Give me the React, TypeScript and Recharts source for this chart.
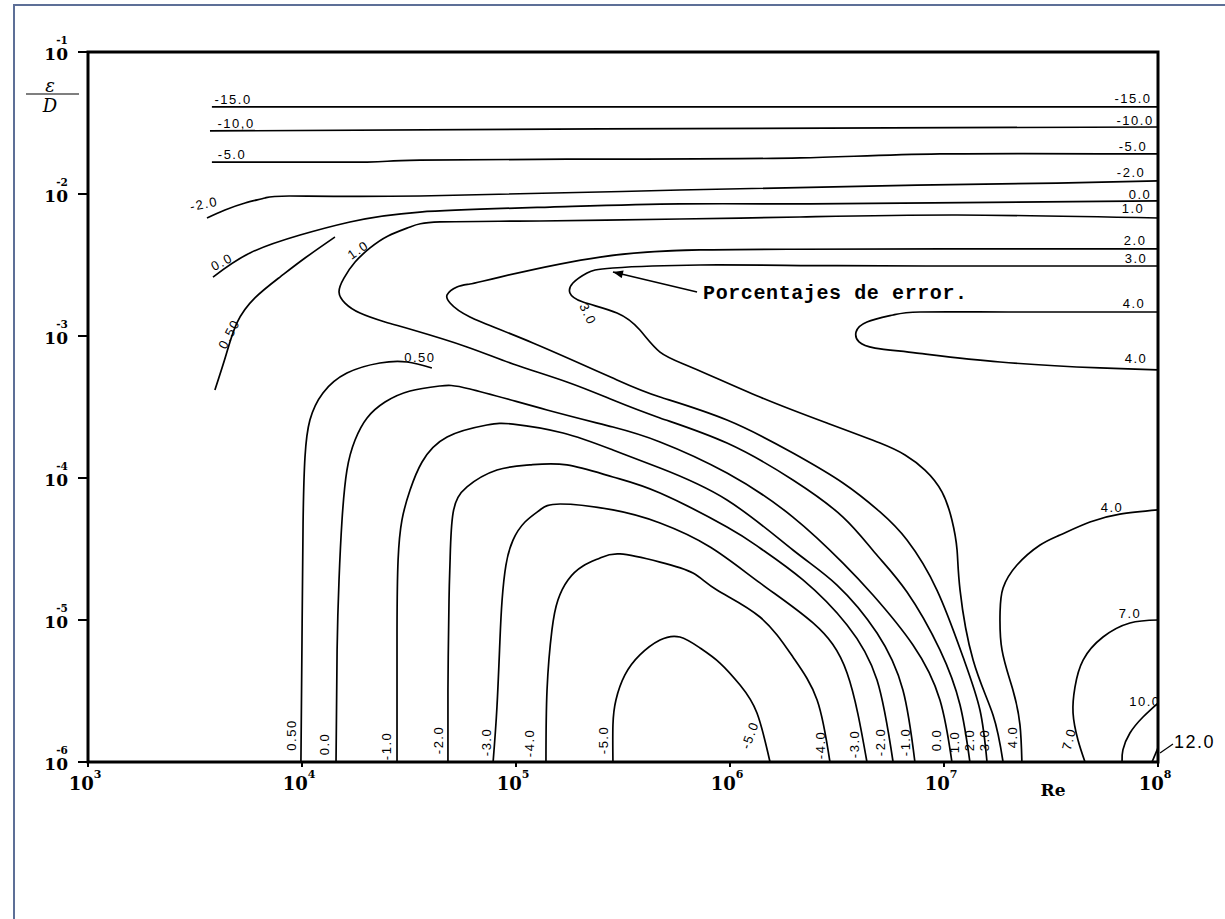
import React from 'react';
import { ComposedChart, Line, Scatter, XAxis, YAxis, ReferenceArea, Label } from 'recharts';

type Pt = [number, number];

// decades on each axis (log10 values)
const RE_DECADES = [3, 4, 5, 6, 7, 8];
const RUGOSITY_DECADES = [-6, -5, -4, -3, -2, -1];

// iso-error lines (%), points given as [log10 Re, log10 e/D]
const ISO_M15: Pt[] = [[3.579, -1.387], [5.5, -1.387], [8, -1.387]];
const ISO_M10: Pt[] = [[3.570, -1.556], [5.393, -1.542], [8, -1.528]];
const ISO_M5: Pt[] = [[3.579, -1.775], [4.304, -1.775], [4.551, -1.761], [5.5, -1.754], [6.327, -1.746], [6.981, -1.718], [8, -1.718]];
const ISO_M2_TOP: Pt[] = [[3.556, -2.169], [3.640, -2.113], [3.734, -2.063], [3.827, -2.028], [3.944, -2.014], [4.551, -2.014], [5.766, -1.972], [6.874, -1.937], [7.528, -1.923], [8, -1.908]];
const ISO_0_TOP: Pt[] = [[3.584, -2.585], [3.757, -2.415], [3.991, -2.289], [4.224, -2.197], [4.551, -2.127], [5.159, -2.092], [5.766, -2.070], [6.327, -2.070], [6.949, -2.063], [8, -2.049]];
const ISO_1: Pt[] = [
  [8, -2.169], [7.061, -2.148], [6.327, -2.162], [5.766, -2.176], [5.112, -2.190], [4.645, -2.197],
  [4.505, -2.232], [4.402, -2.296], [4.318, -2.380], [4.248, -2.479], [4.196, -2.592], [4.173, -2.690],
  [4.201, -2.768], [4.271, -2.838], [4.388, -2.901], [4.519, -2.958], [4.771, -3.077], [4.986, -3.197],
  [5.238, -3.324], [5.453, -3.451], [5.673, -3.577], [5.986, -3.754], [6.294, -4.014], [6.528, -4.275],
  [6.678, -4.528], [6.827, -4.803], [6.981, -5.211], [7.075, -5.599], [7.121, -6],
];
const ISO_2: Pt[] = [
  [8, -2.387], [7.0, -2.387], [6.3, -2.389], [5.860, -2.394], [5.393, -2.444], [4.925, -2.585],
  [4.785, -2.634], [4.724, -2.655], [4.678, -2.711], [4.692, -2.768], [4.785, -2.866], [5.079, -3.049],
  [5.472, -3.310], [5.673, -3.430], [5.986, -3.592], [6.294, -3.824], [6.528, -4.035], [6.701, -4.239],
  [6.827, -4.437], [6.967, -4.789], [7.089, -5.261], [7.168, -5.634], [7.201, -6],
];
const ISO_3: Pt[] = [
  [8, -2.507], [7.355, -2.507], [6.5, -2.505], [5.860, -2.500], [5.453, -2.521], [5.332, -2.556],
  [5.266, -2.627], [5.252, -2.697], [5.313, -2.761], [5.472, -2.838], [5.579, -2.958], [5.673, -3.113],
  [5.827, -3.225], [6.140, -3.430], [6.453, -3.613], [6.701, -3.754], [6.818, -3.838], [6.911, -3.944],
  [6.991, -4.099], [7.037, -4.296], [7.061, -4.507], [7.075, -4.789], [7.136, -5.282], [7.229, -5.669], [7.276, -6],
];
const ISO_4_UPPER: Pt[] = [[8, -2.831], [7.3, -2.831], [6.888, -2.831], [6.762, -2.852], [6.640, -2.901], [6.589, -2.972], [6.603, -3.042], [6.678, -3.085], [6.874, -3.120], [7.262, -3.183], [7.729, -3.225], [8, -3.239]];
const ISO_4_LOWER: Pt[] = [[8, -4.225], [7.822, -4.254], [7.682, -4.310], [7.542, -4.401], [7.449, -4.472], [7.341, -4.613], [7.276, -4.775], [7.262, -4.944], [7.271, -5.211], [7.322, -5.493], [7.355, -5.739], [7.364, -6]];
const ISO_7: Pt[] = [[8, -5.0], [7.869, -5.021], [7.743, -5.120], [7.650, -5.282], [7.612, -5.472], [7.603, -5.655], [7.626, -5.845], [7.659, -6]];
const ISO_10: Pt[] = [[8, -5.585], [7.930, -5.683], [7.869, -5.796], [7.836, -5.915], [7.832, -6]];
const ISO_12: Pt[] = [[8, -5.901], [7.972, -6]];
const ISO_050_TOP: Pt[] = [[3.593, -3.380], [3.645, -3.134], [3.696, -2.908], [3.780, -2.732], [3.897, -2.585], [4.014, -2.451], [4.154, -2.303]];
const ISO_050_LOW: Pt[] = [[3.995, -6], [4.0, -5.141], [4.005, -4.317], [4.014, -3.852], [4.037, -3.592], [4.098, -3.401], [4.210, -3.261], [4.364, -3.190], [4.491, -3.183], [4.607, -3.225]];
const ISO_0_LOW: Pt[] = [
  [4.159, -6], [4.164, -5.211], [4.173, -4.718], [4.187, -4.296], [4.210, -3.944], [4.248, -3.732],
  [4.304, -3.577], [4.388, -3.465], [4.505, -3.387], [4.645, -3.352], [4.785, -3.373], [5.145, -3.521],
  [5.453, -3.641], [5.673, -3.746], [5.986, -3.965], [6.294, -4.275], [6.528, -4.599], [6.668, -4.824],
  [6.855, -5.176], [6.981, -5.563], [7.037, -6],
];
const ISO_M1: Pt[] = [
  [4.444, -6], [4.444, -5.070], [4.449, -4.577], [4.467, -4.296], [4.505, -4.085], [4.561, -3.887],
  [4.678, -3.711], [4.864, -3.627], [4.986, -3.620], [5.220, -3.683], [5.453, -3.803], [5.673, -3.930],
  [5.986, -4.155], [6.294, -4.507], [6.500, -4.754], [6.687, -5.092], [6.808, -5.493], [6.864, -6],
];
const ISO_M2: Pt[] = [
  [4.682, -6], [4.682, -5.493], [4.687, -4.859], [4.692, -4.577], [4.706, -4.246], [4.771, -4.063],
  [4.911, -3.944], [5.065, -3.908], [5.238, -3.908], [5.453, -3.993], [5.673, -4.106], [5.986, -4.345],
  [6.140, -4.493], [6.341, -4.718], [6.547, -5.035], [6.687, -5.423], [6.762, -6],
];
const ISO_M3: Pt[] = [
  [4.893, -6], [4.911, -5.613], [4.925, -5.141], [4.935, -4.859], [4.953, -4.613], [4.986, -4.437],
  [5.042, -4.310], [5.112, -4.225], [5.206, -4.183], [5.453, -4.225], [5.673, -4.317], [5.907, -4.486],
  [6.140, -4.739], [6.388, -5.021], [6.547, -5.373], [6.640, -6],
];
const ISO_M4: Pt[] = [
  [5.140, -6], [5.145, -5.493], [5.168, -5.070], [5.196, -4.859], [5.243, -4.718], [5.313, -4.620],
  [5.393, -4.563], [5.486, -4.535], [5.673, -4.592], [5.827, -4.669], [5.939, -4.789], [6.140, -4.979],
  [6.294, -5.261], [6.407, -5.563], [6.467, -6],
];
const ISO_M5_ARCH: Pt[] = [
  [5.453, -6], [5.453, -5.739], [5.467, -5.563], [5.509, -5.387], [5.579, -5.246], [5.673, -5.141],
  [5.766, -5.120], [5.860, -5.197], [5.953, -5.303], [6.047, -5.458], [6.126, -5.655], [6.187, -6],
];

const CONTOURS: Pt[][] = [
  ISO_M15, ISO_M10, ISO_M5, ISO_M2_TOP, ISO_0_TOP, ISO_1, ISO_2, ISO_3, ISO_4_UPPER, ISO_4_LOWER,
  ISO_7, ISO_10, ISO_12, ISO_050_TOP, ISO_050_LOW, ISO_0_LOW, ISO_M1, ISO_M2, ISO_M3, ISO_M4, ISO_M5_ARCH,
];

// contour labels: [log10 Re, log10 e/D, text, rotation]
const ISO_LABELS: [number, number, string, number][] = [
  [3.678, -1.338, '-15.0', 0], [3.692, -1.500, '-10,0', 0], [3.673, -1.725, '-5.0', 0],
  [3.542, -2.070, '-2.0', -12], [3.626, -2.479, '0.0', -28], [4.262, -2.394, '1.0', -35],
  [3.659, -2.986, '0.50', -62], [4.551, -3.148, '0.50', 0], [5.336, -2.845, '3.0', 65],
  [7.883, -1.324, '-15.0', 0], [7.893, -1.479, '-10.0', 0], [7.883, -1.662, '-5.0', 0],
  [7.874, -1.852, '-2.0', 0], [7.916, -2.000, '0.0', 0], [7.883, -2.099, '1.0', 0],
  [7.893, -2.324, '2.0', 0], [7.897, -2.451, '3.0', 0], [7.888, -2.768, '4.0', 0],
  [7.897, -3.155, '4.0', 0], [7.785, -4.211, '4.0', 0], [7.869, -4.951, '7.0', 0], [7.939, -5.577, '10.0', 0],
  [3.953, -5.810, '0.50', -90], [4.107, -5.873, '0.0', -90], [4.393, -5.887, '-1.0', -90],
  [4.636, -5.845, '-2.0', -90], [4.860, -5.859, '-3.0', -90], [5.065, -5.866, '-4.0', -90],
  [5.407, -5.845, '-5.0', -90], [6.093, -5.810, '-5.0', -70], [6.421, -5.880, '-4.0', -90],
  [6.584, -5.873, '-3.0', -90], [6.701, -5.859, '-2.0', -90], [6.818, -5.859, '-1.0', -90],
  [6.967, -5.845, '0.0', -90], [7.051, -5.859, '1.0', -90], [7.121, -5.845, '2.0', -90],
  [7.187, -5.845, '3.0', -90], [7.318, -5.824, '4.0', -90], [7.584, -5.838, '7.0', -75],
];
const CORNER_LABEL = [{ x: 8, y: -5.93, text: '12.0' }];
const NOTE = [{ x: 5.874, y: -2.739, text: 'Porcentajes de error.' }];
const NOTE_ARROW: Pt[] = [[5.846, -2.690], [5.453, -2.549]];

const toRows = (pts: Pt[]) => pts.map(([x, y]) => ({ x, y }));
const labelRows = ISO_LABELS.map(([x, y, text, rot]) => ({ x, y, text, rot }));

const SERIF = "'DejaVu Serif', 'Liberation Serif', serif";
const SMALL = "'Liberation Sans', Arial, sans-serif";

const IsoLabel = (props: any) => {
  const { cx, cy, payload } = props;
  const rot = payload.rot;
  return (
    <text
      x={cx}
      y={cy}
      textAnchor="middle"
      dominantBaseline="central"
      fontFamily={SMALL}
      fontSize={13}
      letterSpacing={1.5}
      fill="#000"
      transform={rot ? `rotate(${rot} ${cx} ${cy})` : undefined}
    >
      {payload.text}
    </text>
  );
};

const CornerLabel = (props: any) => {
  const { cx, cy, payload } = props;
  return (
    <g>
      <line x1={cx + 2} y1={cy + 1} x2={cx + 15} y2={cy - 8} stroke="#000" strokeWidth={1.2} />
      <text x={cx + 16} y={cy - 4} fontFamily={SMALL} fontSize={18} letterSpacing={1.5} fill="#000">
        {payload.text}
      </text>
    </g>
  );
};

const NoteLabel = (props: any) => {
  const { cx, cy, payload } = props;
  return (
    <text x={cx} y={cy} fontFamily="'Liberation Mono', 'Courier New', monospace" fontWeight="bold" fontSize={20} letterSpacing={0.6} fill="#000">
      {payload.text}
    </text>
  );
};

const XTick = ({ x, y, payload }: any) => (
  <text x={x - 3} y={y + 21} textAnchor="middle" fontFamily={SERIF} fontWeight="bold" fontSize={18} fill="#000">
    10<tspan dy={-12} fontSize={11}>{payload.value}</tspan>
  </text>
);

const YTick = ({ x, y, payload }: any) => (
  <g fontFamily={SERIF} fontWeight="bold" fill="#000">
    <text x={x} y={y + 8} textAnchor="end" fontSize={17}>10</text>
    <text x={x - 6} y={y - 8} textAnchor="middle" fontSize={10.5}>{payload.value}</text>
  </g>
);

const ReTitle = ({ viewBox }: any) => (
  <text x={viewBox.x + viewBox.width - 105} y={viewBox.y + 34} textAnchor="middle" fontFamily={SERIF} fontWeight="bold" fontSize={17} fill="#000">
    Re
  </text>
);

const RoughnessTitle = ({ viewBox }: any) => (
  <g fontFamily={SERIF} fontStyle="italic" fill="#000">
    <text x={viewBox.x + 50} y={viewBox.y + 40} textAnchor="middle" fontSize={18}>ε</text>
    <line x1={viewBox.x + 26} y1={viewBox.y + 42} x2={viewBox.x + 79} y2={viewBox.y + 42} stroke="#000" strokeWidth={1.2} />
    <text x={viewBox.x + 50} y={viewBox.y + 60} textAnchor="middle" fontSize={18}>D</text>
  </g>
);

export default function App() {
  return (
    <div style={{ position: 'absolute', left: 0, top: 0, width: 1225, height: 919, background: '#fff', overflow: 'hidden' }}>
      <svg width={0} height={0} style={{ position: 'absolute' }}>
        <defs>
          <marker id="noteArrow" viewBox="0 0 10 8" refX="10" refY="4" markerWidth="12" markerHeight="8" orient="auto" markerUnits="userSpaceOnUse">
            <path d="M0,0 L10,4 L0,8 Z" fill="#000" />
          </marker>
        </defs>
      </svg>
      <div style={{ position: 'absolute', left: 13, top: 4, width: 1220, height: 920, borderLeft: '2px solid #5d6f97', borderTop: '2px solid #5d6f97', zIndex: 2, pointerEvents: 'none' }} />
      <ComposedChart width={1225} height={919} margin={{ top: 52, right: 67, bottom: 0, left: 0 }}>
        <XAxis
          type="number"
          dataKey="x"
          domain={[3, 8]}
          ticks={RE_DECADES}
          height={157}
          axisLine={false}
          tickLine={{ stroke: '#000', strokeWidth: 2 }}
          tickSize={5}
          tick={<XTick />}
        >
          <Label content={ReTitle} />
        </XAxis>
        <YAxis
          type="number"
          domain={[-6, -1]}
          ticks={RUGOSITY_DECADES}
          width={88}
          axisLine={false}
          tickLine={{ stroke: '#000', strokeWidth: 2 }}
          tickSize={10}
          tickMargin={10}
          tick={<YTick />}
        >
          <Label content={RoughnessTitle} />
        </YAxis>
        <ReferenceArea x1={3} x2={8} y1={-6} y2={-1} fill="none" stroke="#000" strokeWidth={3} />
        {CONTOURS.map((c, i) => (
          <Line
            key={i}
            data={toRows(c)}
            dataKey="y"
            type="natural"
            stroke="#000"
            strokeWidth={1.7}
            dot={false}
            activeDot={false}
            legendType="none"
            isAnimationActive={false}
          />
        ))}
        <Line
          data={toRows(NOTE_ARROW)}
          dataKey="y"
          type="linear"
          stroke="#000"
          strokeWidth={1.5}
          dot={false}
          activeDot={false}
          markerEnd="url(#noteArrow)"
          isAnimationActive={false}
        />
        <Scatter data={labelRows} dataKey="y" shape={IsoLabel} isAnimationActive={false} />
        <Scatter data={CORNER_LABEL} dataKey="y" shape={CornerLabel} isAnimationActive={false} />
        <Scatter data={NOTE} dataKey="y" shape={NoteLabel} isAnimationActive={false} />
      </ComposedChart>
    </div>
  );
}
